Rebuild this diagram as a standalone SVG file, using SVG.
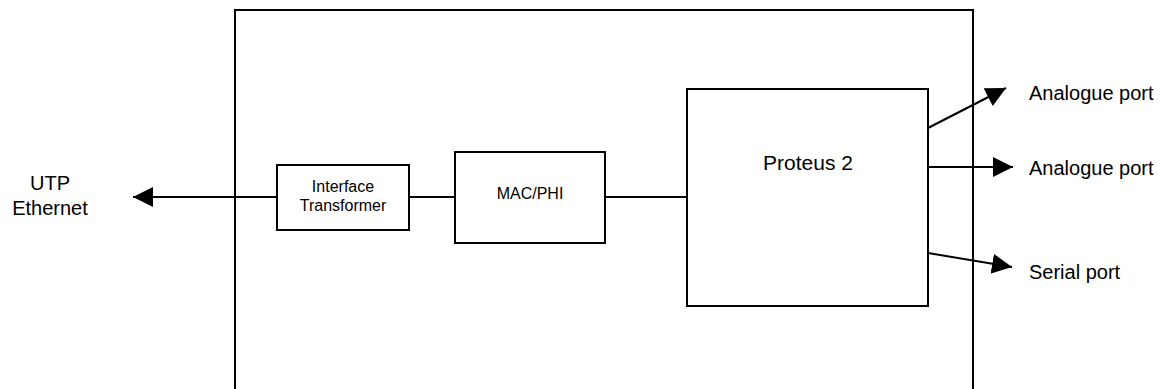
<svg xmlns="http://www.w3.org/2000/svg" width="1164" height="389" viewBox="0 0 1164 389">
<defs>
<style>
.box{fill:none;stroke:#000;stroke-width:2}
.ln{fill:none;stroke:#000;stroke-width:2}
.t{font-family:"Liberation Sans",Arial,sans-serif;fill:#000}
.big{font-size:20px}
.sm{font-size:16px}
</style>
<marker id="ah" viewBox="0 0 20 20" refX="20" refY="10" markerWidth="20" markerHeight="20" markerUnits="userSpaceOnUse" orient="auto">
<path d="M0,0 L20,10 L0,20 Z" fill="#000"/>
</marker>
</defs>
<rect width="1164" height="389" fill="#fff"/>
<g id="outer"><rect class="box" x="235" y="10" width="738" height="400"/></g>
<g id="interface"><rect class="box" x="277" y="165" width="132" height="65"/>
<text class="t sm" x="343" y="192" text-anchor="middle">Interface</text>
<text class="t sm" x="343" y="211" text-anchor="middle">Transformer</text></g>
<g id="macphi"><rect class="box" x="455" y="152" width="150" height="91"/>
<text class="t sm" x="530" y="199" text-anchor="middle">MAC/PHI</text></g>
<g id="proteus"><rect class="box" x="687" y="89" width="241" height="217"/>
<text class="t" x="808" y="170" text-anchor="middle" font-size="21">Proteus 2</text></g>
<g id="utp"><text class="t big" x="50" y="190" text-anchor="middle">UTP</text>
<text class="t big" x="50" y="215" text-anchor="middle">Ethernet</text></g>
<g id="ports">
<text class="t big" x="1029" y="100">Analogue port</text>
<text class="t big" x="1029" y="175">Analogue port</text>
<text class="t big" x="1029" y="279">Serial port</text>
</g>
<g id="connectors">
<line class="ln" x1="277" y1="197" x2="133" y2="197" marker-end="url(#ah)"/>
<line class="ln" x1="409" y1="197" x2="455" y2="197"/>
<line class="ln" x1="605" y1="197" x2="687" y2="197"/>
<line class="ln" x1="928" y1="128" x2="1006" y2="88" marker-end="url(#ah)"/>
<line class="ln" x1="928" y1="167" x2="1013" y2="167" marker-end="url(#ah)"/>
<line class="ln" x1="928" y1="253" x2="1012" y2="267" marker-end="url(#ah)"/>
</g>
</svg>
